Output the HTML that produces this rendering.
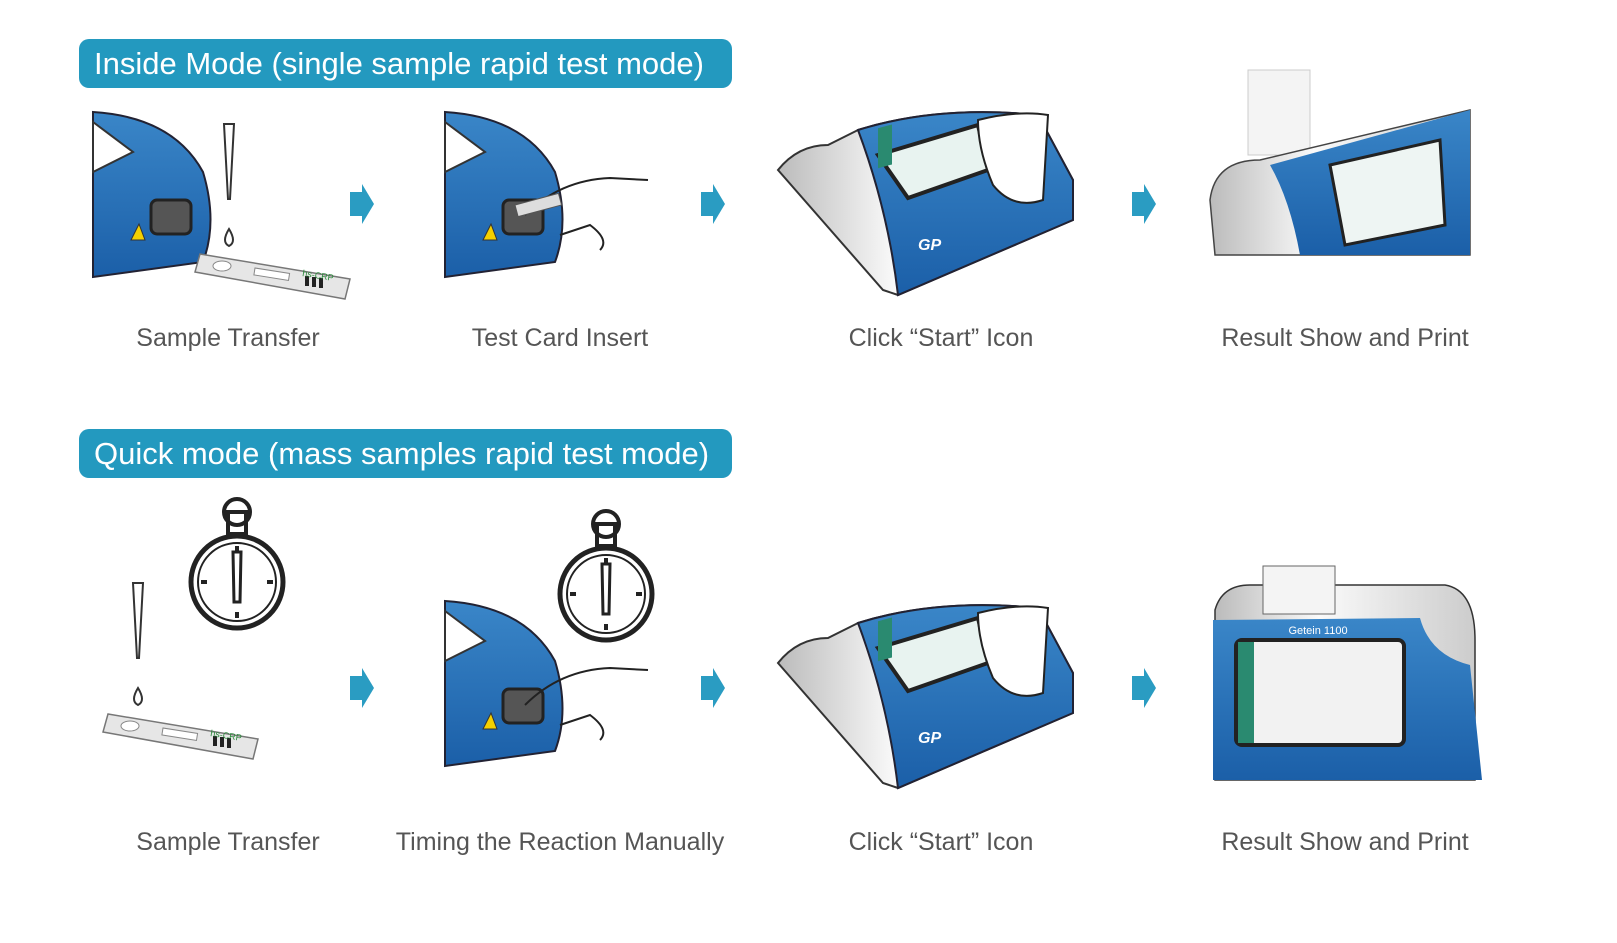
<!DOCTYPE html>
<html><head><meta charset="utf-8"><style>
html,body{margin:0;padding:0;background:#fff;width:1617px;height:943px;overflow:hidden}
svg{display:block}
.h{font-family:"Liberation Sans",sans-serif;font-size:31px;fill:#fff}
.l{font-family:"Liberation Sans",sans-serif;font-size:25px;fill:#555;text-anchor:middle}
</style></head><body>
<svg width="1617" height="943" viewBox="0 0 1617 943" xmlns="http://www.w3.org/2000/svg">
<defs>
<linearGradient id="bl" x1="0" y1="0" x2="0" y2="1"><stop offset="0" stop-color="#3a86c8"/><stop offset="1" stop-color="#1b5fa8"/></linearGradient>
<linearGradient id="gr" x1="0" y1="0" x2="1" y2="0"><stop offset="0" stop-color="#bbb"/><stop offset=".4" stop-color="#fafafa"/><stop offset="1" stop-color="#ccc"/></linearGradient>
<g id="arrow"><polygon points="0,-12 12,-12 22,0 12,12 0,12" fill="#2a9cc2"/><polygon points="12,-20 24,0 12,20" fill="#2a9cc2"/></g>
<g id="corner">
<path d="M0,0 Q80,5 110,60 Q125,110 110,150 L0,165 Z" fill="url(#bl)" stroke="#223" stroke-width="2"/>
<path d="M0,10 L40,40 L0,60 Z" fill="#fff" stroke="#333" stroke-width="2"/>
<rect x="58" y="88" width="40" height="34" rx="6" fill="#555" stroke="#222" stroke-width="3"/>
<polygon points="38,128 46,112 52,128" fill="#f4d000" stroke="#333"/>
</g>
<g id="gdev">
<path d="M0,60 Q20,35 50,35 L80,20 Q160,-5 260,5 L295,70 L295,110 L120,185 L105,180 Z" fill="url(#gr)" stroke="#333" stroke-width="2"/>
<path d="M80,20 Q160,-5 260,5 L295,70 L295,110 L120,185 Q110,100 80,20 Z" fill="url(#bl)" stroke="#223" stroke-width="2"/>
<polygon points="100,45 200,15 210,60 130,88" fill="#e8f3f0" stroke="#222" stroke-width="4"/>
<rect x="100" y="45" width="14" height="40" fill="#2a8a70" transform="skewY(-15)"/>
<path d="M200,10 Q240,0 270,5 L265,90 Q235,100 215,75 Q200,40 200,10Z" fill="#fff" stroke="#222" stroke-width="2"/>
<text x="140" y="140" font-family="Liberation Sans" font-size="16" font-style="italic" font-weight="bold" fill="#fff">GP</text>
</g>
<g id="strip">
<polygon points="0,0 150,25 145,45 -5,18" fill="#e6e6e6" stroke="#777" stroke-width="1.5"/>
<ellipse cx="22" cy="12" rx="9" ry="5" fill="#fff" stroke="#888"/>
<rect x="55" y="14" width="35" height="7" fill="#fff" stroke="#888" transform="rotate(9 55 14)"/>
<rect x="105" y="22" width="4" height="10" fill="#222"/><rect x="112" y="23" width="4" height="10" fill="#222"/><rect x="119" y="24" width="4" height="10" fill="#222"/>
<text x="102" y="22" font-family="Liberation Sans" font-size="9" fill="#2a8a3a" transform="rotate(9 102 22)">hs-CRP</text>
</g>
<g id="tip"><polygon points="-5,0 5,0 1,75 -1,75" fill="#fff" stroke="#333" stroke-width="2"/><path d="M0,105 Q-8,118 0,122 Q8,118 0,105Z" fill="#fff" stroke="#333" stroke-width="2"/></g>
<g id="watch"><circle r="46" fill="#fff" stroke="#222" stroke-width="5"/><circle r="39" fill="none" stroke="#222" stroke-width="2"/><rect x="-9" y="-70" width="18" height="22" fill="#fff" stroke="#222" stroke-width="4"/><circle cy="-70" r="13" fill="none" stroke="#222" stroke-width="4"/><path d="M-4,-30 L4,-30 L3,20 L-3,20Z" fill="#fff" stroke="#222" stroke-width="3"/><g fill="#222"><rect x="-2" y="-36" width="4" height="6"/><rect x="-2" y="30" width="4" height="6"/><rect x="30" y="-2" width="6" height="4"/><rect x="-36" y="-2" width="6" height="4"/></g></g>
</defs>

<rect x="79" y="39" width="653" height="49" rx="10" fill="#2399bf"/>
<text class="h" x="94" y="74">Inside Mode (single sample rapid test mode)</text>
<rect x="79" y="429" width="653" height="49" rx="10" fill="#2399bf"/>
<text class="h" x="94" y="464">Quick mode (mass samples rapid test mode)</text>

<!-- row 1 -->
<use href="#corner" x="93" y="112"/>
<use href="#tip" x="229" y="124"/>
<use href="#strip" x="200" y="254"/>
<use href="#corner" x="445" y="112"/>
<path d="M525,215 Q560,180 610,178 L648,180 M560,235 L590,225 Q610,240 600,250" fill="none" stroke="#222" stroke-width="2"/>
<rect x="515" y="205" width="45" height="12" fill="#ddd" stroke="#555" transform="rotate(-15 515 205)"/>
<use href="#gdev" x="778" y="110"/>
<rect x="1248" y="70" width="62" height="85" fill="#f4f4f4" stroke="#ccc"/>
<path d="M1215,255 L1210,200 Q1215,160 1260,160 L1470,110 L1470,255Z" fill="url(#gr)" stroke="#444" stroke-width="1.5"/>
<path d="M1270,165 L1470,110 L1470,255 L1300,255 Q1290,200 1270,165Z" fill="url(#bl)"/>
<polygon points="1330,165 1440,140 1445,225 1345,245" fill="#eef5f3" stroke="#222" stroke-width="3"/>

<!-- row 2 -->
<use href="#watch" x="237" y="582"/>
<use href="#tip" x="138" y="583"/>
<use href="#strip" x="108" y="714"/>
<use href="#watch" x="606" y="594"/>
<use href="#corner" x="445" y="601"/>
<path d="M525,705 Q560,670 610,668 L648,670 M560,725 L590,715 Q610,730 600,740" fill="none" stroke="#222" stroke-width="2"/>
<use href="#gdev" x="778" y="603"/>
<path d="M1215,780 L1215,610 Q1222,585 1250,585 L1445,585 Q1475,590 1475,640 L1475,780Z" fill="url(#gr)" stroke="#333" stroke-width="1.5"/>
<rect x="1263" y="566" width="72" height="48" fill="#f4f4f4" stroke="#666"/>
<path d="M1213,620 L1420,618 Q1430,655 1470,665 L1482,780 L1213,780Z" fill="url(#bl)"/>
<text x="1318" y="634" font-family="Liberation Sans" font-size="11" fill="#fff" text-anchor="middle">Getein 1100</text>
<rect x="1236" y="640" width="168" height="105" rx="6" fill="#f2f2f2" stroke="#222" stroke-width="4"/>
<rect x="1238" y="642" width="16" height="101" fill="#2a8a70"/>

<!-- arrows -->
<use href="#arrow" x="350" y="204"/><use href="#arrow" x="701" y="204"/><use href="#arrow" x="1132" y="204"/>
<use href="#arrow" x="350" y="688"/><use href="#arrow" x="701" y="688"/><use href="#arrow" x="1132" y="688"/>

<!-- labels -->
<text class="l" x="228" y="346">Sample Transfer</text>
<text class="l" x="560" y="346">Test Card Insert</text>
<text class="l" x="941" y="346">Click “Start” Icon</text>
<text class="l" x="1345" y="346">Result Show and Print</text>
<text class="l" x="228" y="850">Sample Transfer</text>
<text class="l" x="560" y="850">Timing the Reaction Manually</text>
<text class="l" x="941" y="850">Click “Start” Icon</text>
<text class="l" x="1345" y="850">Result Show and Print</text>
</svg>
</body></html>
